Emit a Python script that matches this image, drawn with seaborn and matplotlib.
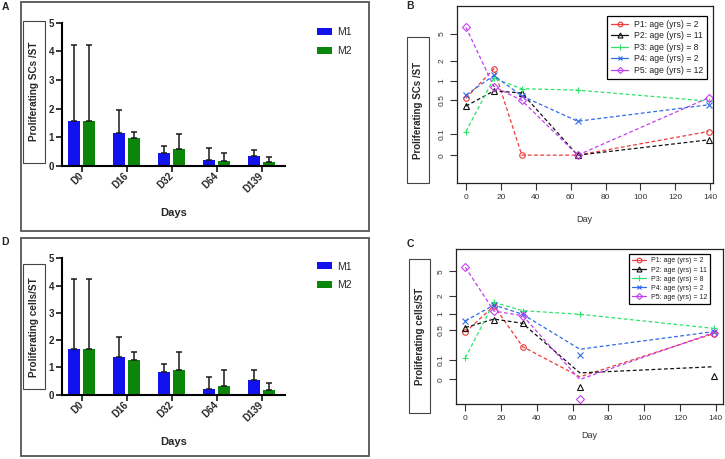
import numpy as np
import pandas as pd
import matplotlib
matplotlib.use("Agg")
import matplotlib.pyplot as plt
import seaborn as sns
from matplotlib.patches import Rectangle
from matplotlib.lines import Line2D

# ---------------- data ----------------
day_cats = ["D0", "D16", "D32", "D64", "D139"]
marker_names = ["M1", "M2"]

# panel A: proliferating SCs / ST (mean and upper SD)
a_m1 = [1.56, 1.15, 0.47, 0.20, 0.34]
a_m2 = [1.56, 0.97, 0.58, 0.17, 0.13]
a_m1_sd = [2.65, 0.82, 0.23, 0.44, 0.23]
a_m2_sd = [2.65, 0.20, 0.54, 0.30, 0.17]

# panel D: proliferating cells / ST
d_m1 = [1.67, 1.38, 0.84, 0.21, 0.55]
d_m2 = [1.67, 1.26, 0.90, 0.33, 0.18]
d_m1_sd = [2.58, 0.73, 0.29, 0.43, 0.35]
d_m2_sd = [2.58, 0.32, 0.68, 0.56, 0.26]

days = [0, 16, 32, 64, 139]
patients = ["P1: age (yrs) = 2", "P2: age (yrs) = 11", "P3: age (yrs) = 8",
            "P4: age (yrs) = 2", "P5: age (yrs) = 12"]

# panel B: proliferating SCs / ST per patient
b_p1 = [0.53, 1.54, 0.0, 0.0, 0.115]
b_p2 = [0.39, 0.70, 0.65, 0.0, 0.064]
b_p3 = [0.115, 1.10, 0.76, 0.72, 0.475]
b_p4 = [0.60, 1.22, 0.58, 0.20, 0.41]
b_p5 = [6.15, 0.82, 0.49, 0.0, 0.54]

# panel C: proliferating cells / ST per patient (line vertices and plotted points)
c_p1_line = [0.46, 1.35, 0.23, 0.01, 0.43]
c_p2_line = [0.56, 0.80, 0.67, 0.027, 0.059]
c_p3_line = [0.12, 1.55, 1.12, 0.97, 0.54]
c_p4_line = [0.74, 1.40, 0.97, 0.20, 0.47]
c_p5_line = [5.80, 1.10, 0.92, 0.0, 0.45]
c_p1_pts = [0.46, 1.35, 0.23, np.nan, 0.43]
c_p2_pts = [0.56, 0.78, 0.67, -0.024, 0.013]
c_p3_pts = [0.12, 1.55, 1.12, 0.97, 0.54]
c_p4_pts = [0.74, 1.40, 0.97, 0.146, 0.47]
c_p5_pts = [5.80, 1.10, 0.92, -0.05, 0.45]

yticks_log = [0, 0.1, 0.5, 1, 2, 5]
ytick_labels_log = ["0", "0.1", "0.5", "1", "2", "5"]

# ---------------- style ----------------
sns.set_style("ticks")
plt.rcParams["font.family"] = ["Liberation Sans", "DejaVu Sans"]

bar_colors = ["#1212EE", "#0B860B"]
p_colors = ["#EE3B3B", "#111111", "#2FE26A", "#2E6BEA", "#C23FEF"]
p_markers = ["o", "^", "+", "x", "D"]
p_msize = [4.0, 4.2, 5.0, 4.2, 3.6]

W, H = 725, 459
fig = plt.figure(figsize=(W / 100, H / 100), dpi=100)


def rect(x0, y0, x1, y1):
    return [x0 / W, 1 - y1 / H, (x1 - x0) / W, (y1 - y0) / H]


def fig_box(x0, y0, x1, y1, ec="#555555", lw=1.3):
    fig.add_artist(Rectangle((x0 / W, 1 - y1 / H), (x1 - x0) / W, (y1 - y0) / H,
                             transform=fig.transFigure, fill=False, ec=ec, lw=lw))


def bar_panel(px, m1, m2, s1, s2, ylabel, ybox, legend_top):
    x0, y0, x1, y1 = px
    ax = fig.add_axes(rect(*px))
    df = pd.DataFrame({"Day": day_cats * 2,
                       "Marker": [marker_names[0]] * 5 + [marker_names[1]] * 5,
                       "Value": m1 + m2})
    sns.barplot(data=df, x="Day", y="Value", hue="Marker", palette=bar_colors,
                width=0.64, gap=0.17, errorbar=None, saturation=1, linewidth=0,
                ax=ax)
    bars = sorted([p for p in ax.patches if p.get_width() > 0],
                  key=lambda p: p.get_x())
    sds = [v for pair in zip(s1, s2) for v in pair]
    xs = [p.get_x() + p.get_width() / 2 for p in bars]
    tops = [p.get_height() for p in bars]
    ax.errorbar(xs, tops, yerr=[np.zeros(len(sds)), sds], fmt="none",
                ecolor="#1a1a1a", elinewidth=1.1, capsize=1.9, capthick=1.1,
                zorder=1)
    ax.set_xlim(-0.43, 4.52)
    ax.set_ylim(0, 5)
    ax.set_yticks(range(6))
    sns.despine(ax=ax)
    for s in ["left", "bottom"]:
        ax.spines[s].set_linewidth(1.5)
        ax.spines[s].set_color("black")
    ax.tick_params(direction="out", length=4, width=1.3, labelsize=7, pad=2)
    for lbl in ax.get_yticklabels():
        lbl.set_fontweight("bold")
    for lbl in ax.get_xticklabels():
        lbl.set_fontweight("bold")
        lbl.set_rotation(45)
        lbl.set_ha("right")
        lbl.set_va("center")
        lbl.set_rotation_mode("anchor")
    aw, ah = x1 - x0, y1 - y0
    ax.set_xlabel("Days", fontsize=8, fontweight="bold")
    ax.xaxis.set_label_coords(0.5, (y1 - (y1 + 47)) / ah)
    ax.xaxis.label.set_va("center")
    bx0, by0, bx1, by1 = ybox
    ax.set_ylabel(ylabel, fontsize=7.2, fontweight="bold")
    ax.yaxis.set_label_coords(((bx0 + bx1) / 2 - x0) / aw, (y1 - (by0 + by1) / 2) / ah)
    ax.yaxis.label.set_va("center")
    fig_box(bx0, by0, bx1, by1, ec="#444444", lw=0.8)
    sns.move_legend(ax, "upper left",
                    bbox_to_anchor=((316.7 - x0) / aw, (y1 - legend_top) / ah),
                    frameon=False, title=None, fontsize=7.5, handlelength=1.45,
                    handleheight=0.65, handletextpad=0.5, labelspacing=0.85,
                    borderpad=0, borderaxespad=0)
    return ax


def fwd(v):
    return np.log10(np.asarray(v, dtype=float) + 0.1)


def inv(t):
    return 10 ** np.asarray(t, dtype=float) - 0.1


def line_panel(px, lines, pts, ylim, xlim, ylabel, ybox, leg_corner, leg_fs):
    x0, y0, x1, y1 = px
    aw, ah = x1 - x0, y1 - y0
    ax = fig.add_axes(rect(*px))
    ax.set_yscale("function", functions=(fwd, inv))
    for i in range(5):
        sns.lineplot(x=days, y=lines[i], ax=ax, color=p_colors[i], linestyle=(0, (3, 2)),
                     linewidth=0.9, errorbar=None, sort=False)
        sns.lineplot(x=days, y=pts[i], ax=ax, color=p_colors[i], linestyle="none",
                     marker=p_markers[i], markersize=p_msize[i],
                     markerfacecolor="none", markeredgecolor=p_colors[i],
                     markeredgewidth=0.8, errorbar=None, sort=False)
    ax.set_ylim(*ylim)
    ax.set_xlim(*xlim)
    ax.set_yticks(yticks_log)
    ax.set_yticklabels(ytick_labels_log)
    ax.set_xticks(range(0, 141, 20))
    ax.minorticks_off()
    for s in ax.spines.values():
        s.set_linewidth(0.9)
        s.set_color("#222222")
    ax.tick_params(direction="out", length=5, width=0.8, color="#333333",
                   labelsize=6, labelcolor="#333333", pad=3)
    for lbl in ax.get_yticklabels():
        lbl.set_rotation(90)
        lbl.set_va("center")
    ax.set_xlabel("Day", fontsize=6.5, color="#333333")
    ax.set_ylabel(ylabel, fontsize=7, fontweight="bold")
    bx0, by0, bx1, by1 = ybox
    ax.yaxis.set_label_coords(((bx0 + bx1) / 2 - x0) / aw, (y1 - (by0 + by1) / 2) / ah)
    ax.yaxis.label.set_va("center")
    fig_box(bx0, by0, bx1, by1, ec="#444444", lw=0.8)
    handles = [Line2D([0], [0], color=p_colors[i], lw=0.9, marker=p_markers[i],
                      markersize=p_msize[i] * 0.85, markerfacecolor="none",
                      markeredgecolor=p_colors[i], markeredgewidth=0.8)
               for i in range(5)]
    lx, ly = leg_corner
    leg = ax.legend(handles, patients, loc="upper right",
                    bbox_to_anchor=((lx - x0) / aw, (y1 - ly) / ah),
                    frameon=True, fancybox=False, edgecolor="black", framealpha=1,
                    fontsize=leg_fs, handlelength=2.0, handletextpad=0.6,
                    labelspacing=0.3, borderpad=0.45, borderaxespad=0)
    leg.get_frame().set_linewidth(0.9)
    for t in leg.get_texts():
        t.set_color("#222222")
    return ax


# ---------------- panels ----------------
fig_box(20.7, 1.7, 368.5, 230.5)
fig_box(20.7, 238, 368.5, 456)

axA = bar_panel((62.3, 22.7, 285, 166), a_m1, a_m2, a_m1_sd, a_m2_sd,
                "Proliferating SCs /ST", (23.3, 20.7, 45, 162.7), 27.5)
axD = bar_panel((62.3, 258.3, 285, 394.7), d_m1, d_m2, d_m1_sd, d_m2_sd,
                "Proliferating cells/ST", (23.3, 264.3, 45, 389.3), 261.5)

b_lines = [b_p1, b_p2, b_p3, b_p4, b_p5]
axB = line_panel((456.7, 6, 712.7, 182.7), b_lines, b_lines, (-0.059, 12.4),
                 (-5.3, 141.4), "Proliferating SCs /ST", (406.7, 37.3, 429, 182.7),
                 (706.7, 15.7), 6.2)
axB.xaxis.set_label_coords(0.5, (182.7 - 220) / 176.7)
axB.xaxis.label.set_va("center")

c_lines = [c_p1_line, c_p2_line, c_p3_line, c_p4_line, c_p5_line]
c_pts = [c_p1_pts, c_p2_pts, c_p3_pts, c_p4_pts, c_p5_pts]
axC = line_panel((455.7, 249.3, 722.7, 404), c_lines, c_pts, (-0.059, 11.25),
                 (-5.4, 143.9), "Proliferating cells/ST", (409.3, 259.3, 430, 412.7),
                 (710, 254.3), 5.0)
axC.xaxis.set_label_coords(0.5, (404 - 436) / 154.7)
axC.xaxis.label.set_va("center")

for letter, (lx, ly) in {"A": (5.3, 7), "D": (5.3, 242), "B": (410, 6), "C": (410, 244)}.items():
    fig.text(lx / W, 1 - ly / H, letter, fontsize=7.5, fontweight="bold",
             ha="center", va="center")

fig.savefig("out.png", dpi=100)
